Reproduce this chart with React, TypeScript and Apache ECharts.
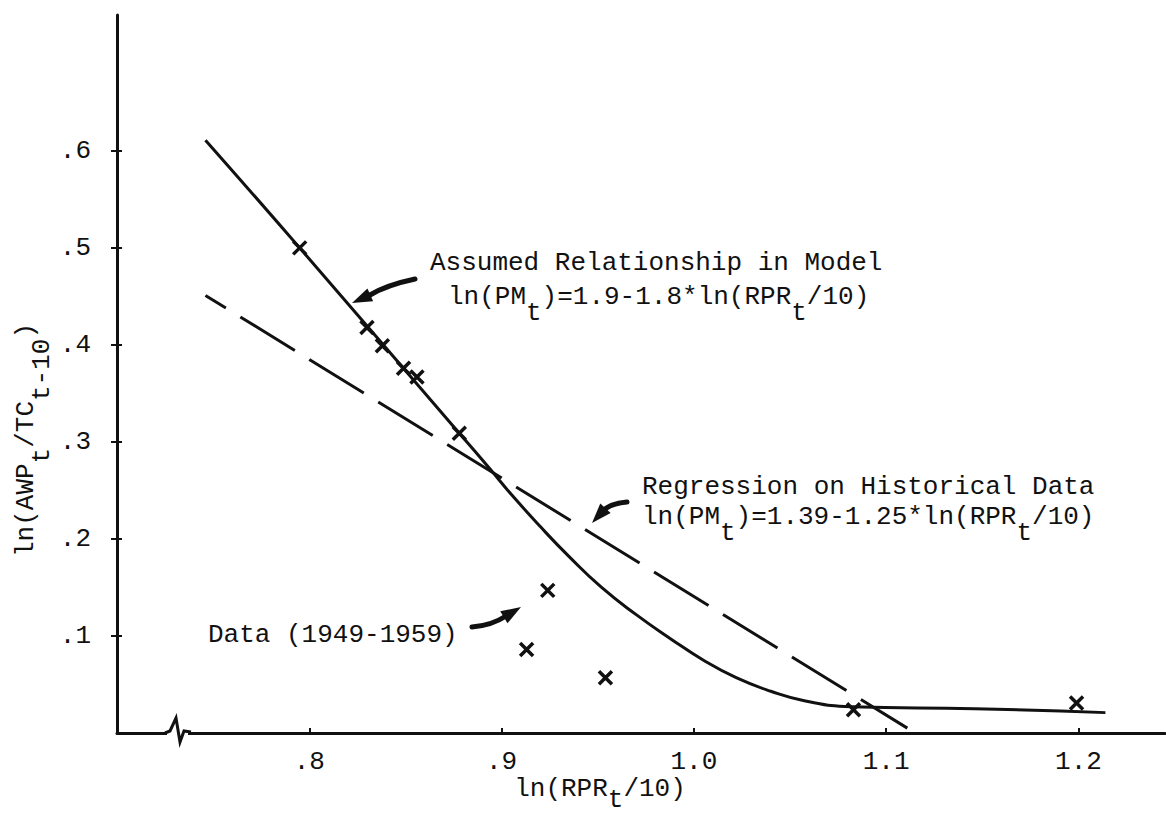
import React, { useEffect, useRef } from 'react';
import * as echarts from 'echarts';

// Axis ticks
const xTicks = [0.8, 0.9, 1.0, 1.1, 1.2];
const yTicks = [0.1, 0.2, 0.3, 0.4, 0.5, 0.6];

// Observed yearly points, 1949-1959: x = ln(RPR_t/10), y = ln(AWP_t/TC_t-10)
const dataX = [0.795, 0.83, 0.838, 0.849, 0.856, 0.878, 0.924, 0.913, 0.954, 1.083, 1.199];
const dataY = [0.5, 0.418, 0.399, 0.376, 0.367, 0.309, 0.147, 0.086, 0.057, 0.024, 0.031];

// Relationship assumed in the model (solid curve)
const modelX = [0.746, 0.795, 0.878, 0.894, 0.905, 0.92, 0.935, 0.952, 0.97, 0.988, 1.005, 1.022, 1.04, 1.058, 1.082, 1.146, 1.214];
const modelY = [0.611, 0.5, 0.309, 0.272, 0.246, 0.213, 0.182, 0.15, 0.122, 0.097, 0.075, 0.057, 0.043, 0.033, 0.027, 0.025, 0.021];

// Regression on historical data (dashed straight line)
const regX = [0.746, 1.111];
const regY = [0.451, 0.005];

const FONT = "'Liberation Mono', 'DejaVu Sans Mono', monospace";
const INK = '#111';
const FS = 26;

// Rich-text styles: "n" normal, "s" subscript (same size, dropped half a line)
const richOpt = {
  n: { fontFamily: FONT, fontSize: FS, lineHeight: FS, color: INK },
  s: { fontFamily: FONT, fontSize: FS, lineHeight: FS, color: INK, padding: [32, 0, 0, 0] },
};
const richOptLow = {
  n: { fontFamily: FONT, fontSize: FS, lineHeight: FS, color: INK },
  s: { fontFamily: FONT, fontSize: FS, lineHeight: FS, color: INK, padding: [22, 0, 0, 0] },
};
const richZr = {
  n: { fontFamily: FONT, fontSize: FS, lineHeight: FS, fill: INK },
  s: { fontFamily: FONT, fontSize: FS, lineHeight: FS, fill: INK, padding: [32, 0, 0, 0] },
};

function label(text: string, x: number, y: number) {
  return {
    type: 'text',
    x,
    y,
    z: 100,
    style: {
      text,
      rich: richZr,
      fontFamily: FONT,
      fontSize: FS,
      fill: INK,
      align: 'left',
      verticalAlign: 'middle',
    },
  };
}

function arrow(
  p0: number[],
  c1: number[],
  c2: number[],
  p1: number[],
  tip: number[],
) {
  const dx = tip[0] - p1[0];
  const dy = tip[1] - p1[1];
  const len = Math.hypot(dx, dy) || 1;
  const ux = dx / len;
  const uy = dy / len;
  const headLen = 20;
  const hw = 7;
  const bx = tip[0] - ux * headLen;
  const by = tip[1] - uy * headLen;
  return [
    {
      type: 'bezierCurve',
      z: 100,
      shape: { x1: p0[0], y1: p0[1], cpx1: c1[0], cpy1: c1[1], cpx2: c2[0], cpy2: c2[1], x2: p1[0], y2: p1[1] },
      style: { stroke: INK, lineWidth: 5, fill: null, lineCap: 'round' },
    },
    {
      type: 'polygon',
      z: 100,
      shape: {
        points: [
          [tip[0], tip[1]],
          [bx - uy * hw, by + ux * hw],
          [bx + uy * hw, by - ux * hw],
        ],
      },
      style: { fill: INK },
    },
  ];
}

export default function App() {
  const ref = useRef<HTMLDivElement>(null);

  useEffect(() => {
    if (!ref.current) return;
    const chart = echarts.init(ref.current, null, { renderer: 'svg' });

    const axisLine = { show: true, lineStyle: { color: INK, width: 3 } };

    chart.setOption({
      animation: false,
      backgroundColor: '#fff',
      grid: { left: 117, right: 1, top: 15, bottom: 81, containLabel: false, outerBoundsMode: 'none' },
      xAxis: {
        type: 'value',
        min: 0.7,
        max: 1.245,
        axisLine,
        splitLine: { show: false },
        axisTick: {
          show: true,
          inside: true,
          length: 5,
          customValues: xTicks,
          lineStyle: { color: INK, width: 2 },
        },
        axisLabel: {
          customValues: xTicks,
          margin: 16,
          color: INK,
          fontFamily: FONT,
          fontSize: FS,
          formatter: (v: number) => (v < 1 ? '.' + Math.round(v * 10) : v.toFixed(1)),
        },
        name: '{n|ln(RPR}{s|t}{n|/10)}',
        nameLocation: 'middle',
        nameGap: 43,
        nameMoveOverlap: false,
        nameTextStyle: { rich: richOptLow, padding: [0, 82, 0, 0] },
      },
      yAxis: [
        {
          type: 'value',
          min: 0,
          max: 0.74,
          axisLine,
          splitLine: { show: false },
          axisTick: {
            show: true,
            inside: false,
            length: 6,
            customValues: yTicks,
            lineStyle: { color: INK, width: 2 },
          },
          axisLabel: {
            customValues: yTicks,
            margin: 26,
            color: INK,
            fontFamily: FONT,
            fontSize: FS,
            formatter: (v: number) => '.' + Math.round(v * 10),
          },
          name: '{n|ln(AWP}{s|t}{n|/TC}{s|t-10}{n|)}',
          nameLocation: 'middle',
          nameGap: 78,
          nameMoveOverlap: false,
          nameTextStyle: { rich: richOpt, padding: [0, 132, 0, 0] },
        },
        {
          type: 'value',
          min: 0,
          max: 0.74,
          position: 'left',
          axisLine: { show: false },
          splitLine: { show: false },
          axisLabel: { show: false },
          axisTick: {
            show: true,
            inside: true,
            length: 5,
            customValues: yTicks,
            lineStyle: { color: INK, width: 2 },
          },
        },
      ],
      series: [
        {
          type: 'line',
          name: 'Assumed Relationship in Model',
          data: modelX.map((x, i) => [x, modelY[i]]),
          smooth: 0.5,
          showSymbol: false,
          lineStyle: { color: INK, width: 3 },
          z: 3,
        },
        {
          type: 'line',
          name: 'Regression on Historical Data',
          data: regX.map((x, i) => [x, regY[i]]),
          showSymbol: false,
          lineStyle: { color: INK, width: 3, type: [64, 17], dashOffset: 40, cap: 'butt' },
          z: 3,
        },
        {
          type: 'scatter',
          name: 'Data (1949-1959)',
          data: dataX.map((x, i) => [x, dataY[i]]),
          symbol: 'path://M0,0L10,10M10,0L0,10',
          symbolSize: 13,
          itemStyle: { color: INK, borderColor: INK, borderWidth: 3.5, opacity: 1 },
          emphasis: { disabled: true },
          z: 4,
        },
      ],
      graphic: [
        // axis break on the horizontal axis
        {
          type: 'rect',
          z: 100,
          shape: { x: 167, y: 726, width: 21, height: 14 },
          style: { fill: '#fff' },
        },
        {
          type: 'polyline',
          z: 101,
          shape: { points: [[165, 733], [170, 731], [176, 718], [180, 742], [184, 731], [191, 732]] },
          style: { stroke: INK, lineWidth: 3, fill: null },
        },
        label('{n|Assumed Relationship in Model}', 430, 263),
        label('{n|ln(PM}{s|t}{n|)=1.9-1.8*ln(RPR}{s|t}{n|/10)}', 448, 297),
        label('{n|Regression on Historical Data}', 642, 487),
        label('{n|ln(PM}{s|t}{n|)=1.39-1.25*ln(RPR}{s|t}{n|/10)}', 642, 517),
        label('{n|Data (1949-1959)}', 208, 635),
        ...arrow([415, 279], [396, 283], [380, 289], [370, 295], [352, 303]),
        ...arrow([627, 502], [615, 503], [606, 507], [602, 512], [592, 523]),
        ...arrow([472, 627], [485, 626], [497, 622], [506, 616], [521, 607]),
      ],
    });

    return () => chart.dispose();
  }, []);

  return (
    <div
      ref={ref}
      style={{ position: 'fixed', left: 0, top: 0, width: 1166, height: 814, background: '#fff' }}
    />
  );
}
